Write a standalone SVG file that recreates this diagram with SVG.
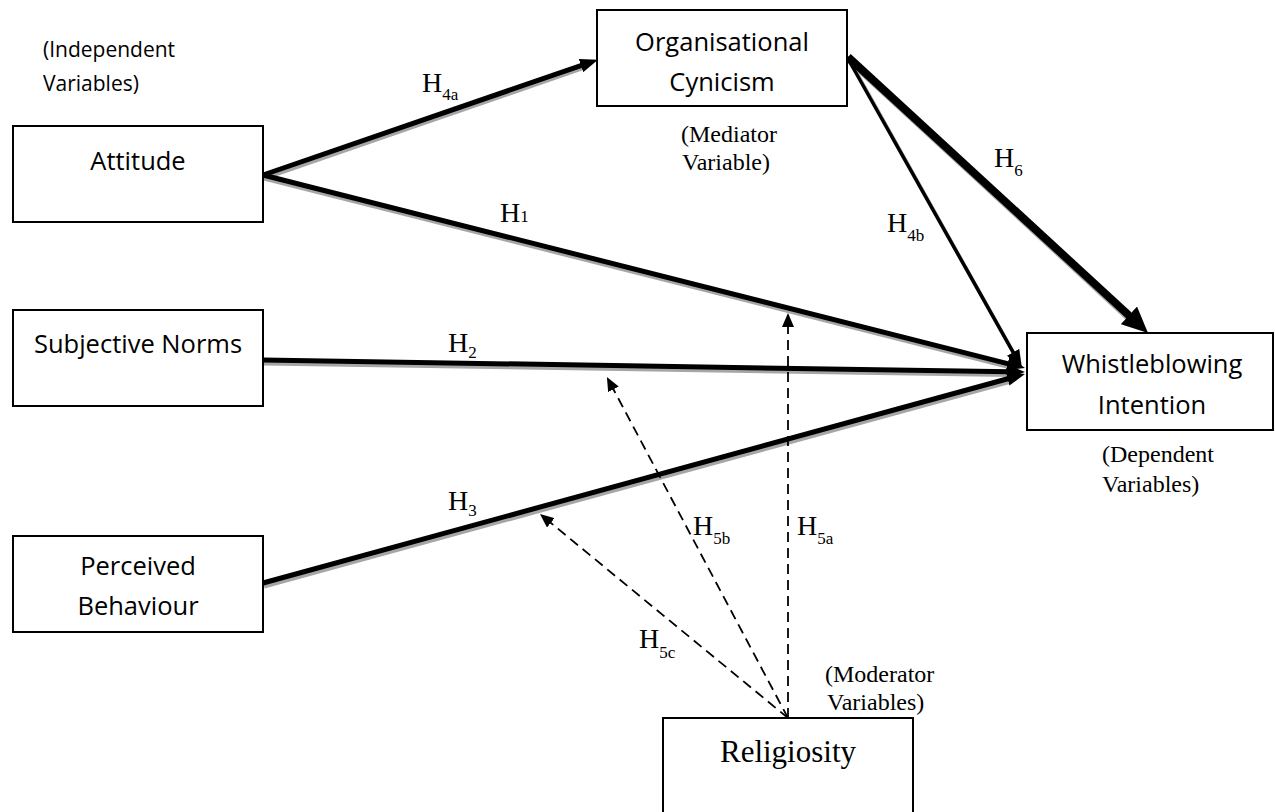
<svg xmlns="http://www.w3.org/2000/svg" width="1275" height="812" viewBox="0 0 1275 812">
<style>
.box{fill:#fff;stroke:#000;stroke-width:2}
.nt{font-family:"Open Sans","Liberation Sans",sans-serif;font-size:25.5px;fill:#000;text-anchor:middle}
.sm{font-family:"Open Sans","Liberation Sans",sans-serif;font-size:21px;fill:#000}
.sr{font-family:"Liberation Serif","Times New Roman",serif;font-size:24px;fill:#000}
.h{font-family:"Liberation Serif","Times New Roman",serif;font-size:28px;fill:#000}
.sub{font-size:17px}
.rel{font-family:"Liberation Serif","Times New Roman",serif;font-size:31px;fill:#000;text-anchor:middle}
.sh{stroke:#a6a6a6;fill:none}
.ln{stroke:#000;fill:none}
.ds{stroke:#000;fill:none;stroke-width:1.8;stroke-dasharray:10 6}
</style>
<defs>
<marker id="mA" markerUnits="userSpaceOnUse" markerWidth="18" markerHeight="14" refX="3" refY="7" orient="auto" viewBox="0 0 18 14"><path d="M0,0 L18,7 L0,14 z" fill="#000"/></marker>
<marker id="mB" markerUnits="userSpaceOnUse" markerWidth="26" markerHeight="24" refX="3" refY="12" orient="auto" viewBox="0 0 26 24"><path d="M0,0 L26,12 L0,24 z" fill="#000"/></marker>
<marker id="mC" markerUnits="userSpaceOnUse" markerWidth="14" markerHeight="12" refX="1" refY="6" orient="auto" viewBox="0 0 14 12"><path d="M0,0 L14,6 L0,12 z" fill="#000"/></marker>
</defs>

<g id="connectors">
<!-- shadows -->
<line class="sh" stroke-width="5" x1="264" y1="178" x2="585" y2="67"/>
<line class="sh" stroke-width="5" x1="264" y1="178" x2="1011" y2="367"/>
<line class="sh" stroke-width="5" x1="264" y1="363" x2="1011" y2="374.5"/>
<line class="sh" stroke-width="5" x1="264" y1="586" x2="1011" y2="381"/>
<line class="sh" stroke-width="3.5" x1="849" y1="59" x2="1016" y2="357"/>
<line class="sh" stroke-width="8" x1="850" y1="60" x2="1132" y2="320"/>
<!-- solid -->
<line class="ln" stroke-width="5" x1="263" y1="175" x2="583.8" y2="64.6" marker-end="url(#mA)"/>
<line class="ln" stroke-width="5" x1="263" y1="175" x2="1010.5" y2="364.3" marker-end="url(#mA)"/>
<line class="ln" stroke-width="5" x1="263" y1="360" x2="1010" y2="371.8" marker-end="url(#mA)"/>
<line class="ln" stroke-width="5" x1="263" y1="583" x2="1010.5" y2="378" marker-end="url(#mA)"/>
<line class="ln" stroke-width="3.5" x1="847" y1="57" x2="1014.6" y2="354.9" marker-end="url(#mA)"/>
<line class="ln" stroke-width="8" x1="848" y1="57" x2="1131.1" y2="317.4" marker-end="url(#mB)"/>
<!-- dashed -->
<line class="ds" x1="788" y1="718" x2="788" y2="326" marker-end="url(#mC)"/>
<line class="ds" x1="788" y1="718" x2="613" y2="388.5" marker-end="url(#mC)"/>
<line class="ds" x1="788" y1="718" x2="550" y2="522.2" marker-end="url(#mC)"/>
<!-- labels -->
<text class="h" x="422" y="92">H<tspan class="sub" dy="8">4a</tspan></text>
<text class="h" x="500" y="222">H<tspan class="sub">1</tspan></text>
<text class="h" x="448" y="352">H<tspan class="sub" dy="6">2</tspan></text>
<text class="h" x="448" y="510">H<tspan class="sub" dy="6">3</tspan></text>
<text class="h" x="994" y="167">H<tspan class="sub" dy="9">6</tspan></text>
<text class="h" x="887" y="232">H<tspan class="sub" dy="9">4b</tspan></text>
<text class="h" x="693" y="535">H<tspan class="sub" dy="9">5b</tspan></text>
<text class="h" x="797" y="535">H<tspan class="sub" dy="9">5a</tspan></text>
<text class="h" x="639" y="648">H<tspan class="sub" dy="10">5c</tspan></text>
</g>

<g id="attitude">
<rect class="box" x="13" y="126" width="250" height="96"/>
<text class="nt" x="138" y="170">Attitude</text>
</g>
<g id="subjective-norms">
<rect class="box" x="13" y="310" width="250" height="96"/>
<text class="nt" x="138" y="353">Subjective Norms</text>
</g>
<g id="perceived-behaviour">
<rect class="box" x="13" y="536" width="250" height="96"/>
<text class="nt" x="138" y="575">Perceived</text>
<text class="nt" x="138" y="615">Behaviour</text>
</g>
<g id="organisational-cynicism">
<rect class="box" x="597" y="10" width="250" height="96"/>
<text class="nt" x="722" y="51">Organisational</text>
<text class="nt" x="722" y="91">Cynicism</text>
</g>
<g id="whistleblowing-intention">
<rect class="box" x="1027" y="333" width="246" height="97"/>
<text class="nt" x="1152" y="373">Whistleblowing</text>
<text class="nt" x="1152" y="414">Intention</text>
</g>
<g id="religiosity">
<rect class="box" x="663" y="718" width="250" height="110"/>
<text class="rel" x="788" y="762">Religiosity</text>
</g>

<g id="annotations">
<text class="sm" x="43" y="57">(Independent</text>
<text class="sm" x="43" y="91">Variables)</text>
<text class="sr" x="729" y="142" text-anchor="middle">(Mediator</text>
<text class="sr" x="726" y="170" text-anchor="middle">Variable)</text>
<text class="sr" x="1102" y="462">(Dependent</text>
<text class="sr" x="1102" y="492">Variables)</text>
<text class="sr" x="825" y="682">(Moderator</text>
<text class="sr" x="827" y="710">Variables)</text>
</g>
</svg>
